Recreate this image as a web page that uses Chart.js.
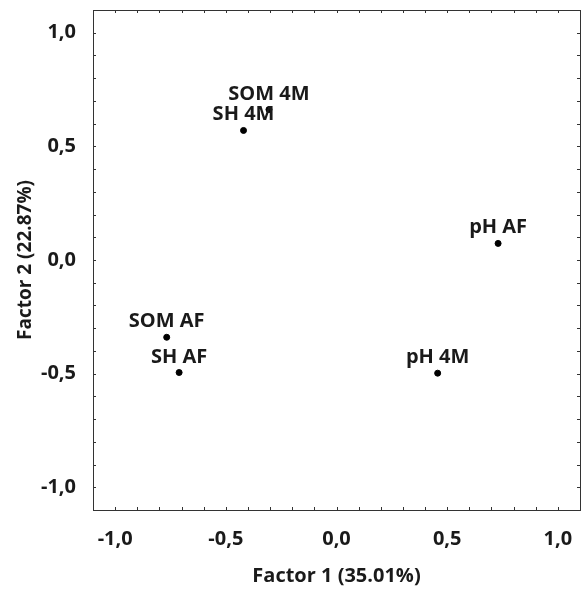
<!DOCTYPE html>
<html>
<head>
<meta charset="utf-8">
<script src="https://cdn.jsdelivr.net/npm/chart.js@4/dist/chart.umd.min.js"></script>
<style>
    html, body { margin: 0; padding: 0; background: #fff; }
    #wrap { width: 584px; height: 590px; }
</style>
</head>
<body>
<div id="wrap"><canvas id="chart-canvas"></canvas></div>
<script>
const labels = ['SOM 4M', 'SH 4M', 'pH AF', 'SOM AF', 'SH AF', 'pH 4M'];
const factor1 = [-0.305, -0.42, 0.73, -0.767, -0.711, 0.457];
const factor2 = [0.662, 0.570, 0.073, -0.34, -0.495, -0.498];
const tickValues = [-1.0, -0.5, 0.0, 0.5, 1.0];

const textColor = '#1a1a1a';
const fontFamily = "'Open Sans', sans-serif";

function formatTick(v) {
    return v.toFixed(1).replace('.', ',');
}

// frame with small inward ticks every 0.1, plus the point labels
const framePlugin = {
    id: 'frame',
    afterDatasetsDraw(chart) {
        const ctx = chart.ctx;
        const area = chart.chartArea;
        const x = chart.scales.x;
        const y = chart.scales.y;

        ctx.save();
        ctx.strokeStyle = '#333';
        ctx.lineWidth = 1;
        ctx.strokeRect(area.left + 0.5, area.top + 0.5, area.right - area.left, area.bottom - area.top);

        ctx.beginPath();
        for (let i = -11; i <= 11; i++) {
            const v = i / 10;
            const px = Math.round(x.getPixelForValue(v)) + 0.5;
            const py = Math.round(y.getPixelForValue(v)) + 0.5;
            ctx.moveTo(px, area.bottom);
            ctx.lineTo(px, area.bottom - 3);
            ctx.moveTo(px, area.top);
            ctx.lineTo(px, area.top + 3);
            ctx.moveTo(area.left, py);
            ctx.lineTo(area.left + 3, py);
            ctx.moveTo(area.right, py);
            ctx.lineTo(area.right - 3, py);
        }
        ctx.stroke();

        ctx.fillStyle = textColor;
        ctx.font = 'bold 20px ' + fontFamily;
        ctx.textAlign = 'center';
        ctx.textBaseline = 'alphabetic';
        labels.forEach((label, i) => {
            const px = x.getPixelForValue(factor1[i]);
            const py = y.getPixelForValue(factor2[i]);
            ctx.fillText(label, px, py - 10);
        });
        ctx.restore();
    }
};

const ctx = document.getElementById('chart-canvas').getContext('2d');

new Chart(ctx, {
    type: 'scatter',
    data: {
        datasets: [{
            data: factor1.map((v, i) => ({ x: v, y: factor2[i] })),
            backgroundColor: '#000',
            borderColor: '#000',
            pointRadius: 3,
            pointHoverRadius: 3
        }]
    },
    options: {
        responsive: true,
        maintainAspectRatio: false,
        animation: false,
        layout: { padding: { top: 10, right: 3, left: 0, bottom: 0 } },
        plugins: {
            legend: { display: false },
            tooltip: { enabled: false }
        },
        scales: {
            x: {
                type: 'linear',
                min: -1.1,
                max: 1.1,
                afterBuildTicks: scale => { scale.ticks = tickValues.map(v => ({ value: v })); },
                afterFit: scale => {
                    scale.height = 80;
                    scale.paddingLeft = 0;
                    scale.paddingRight = 0;
                },
                grid: { display: false },
                border: { display: false },
                ticks: {
                    color: textColor,
                    padding: 9,
                    font: { family: fontFamily, size: 20, weight: 'bold' },
                    callback: v => formatTick(v)
                },
                title: {
                    display: true,
                    text: 'Factor 1 (35.01%)',
                    color: textColor,
                    font: { family: fontFamily, size: 20, weight: 'bold' },
                    padding: { top: 6, bottom: 2 }
                }
            },
            y: {
                type: 'linear',
                min: -1.1,
                max: 1.1,
                afterBuildTicks: scale => { scale.ticks = tickValues.map(v => ({ value: v })); },
                afterFit: scale => {
                    scale.width = 93;
                    scale.paddingTop = 0;
                    scale.paddingBottom = 0;
                },
                grid: { display: false },
                border: { display: false },
                ticks: {
                    color: textColor,
                    padding: 9,
                    font: { family: fontFamily, size: 20, weight: 'bold' },
                    callback: v => formatTick(v)
                },
                title: {
                    display: true,
                    text: 'Factor 2 (22.87%)',
                    color: textColor,
                    font: { family: fontFamily, size: 19, weight: 'bold' },
                    padding: { top: 14, bottom: 4 }
                }
            }
        }
    },
    plugins: [framePlugin]
});
</script>
</body>
</html>
